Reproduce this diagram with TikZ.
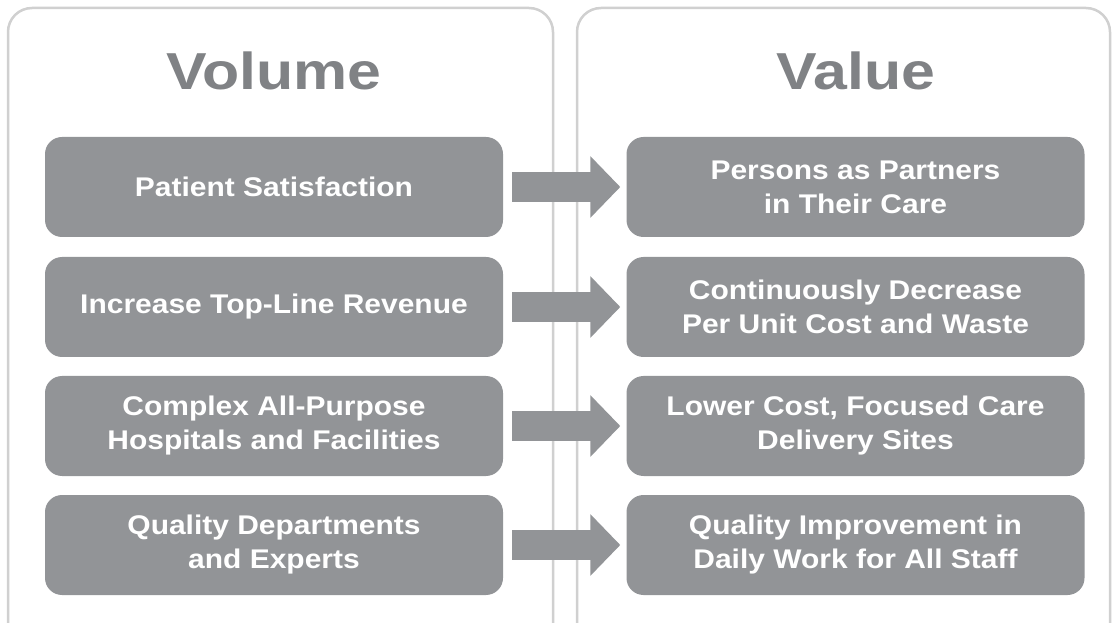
\documentclass[tikz,border=0pt]{standalone}
\usepackage{fontspec}
\usepackage{tikz}
\usetikzlibrary{arrows.meta}
\setmainfont{Liberation Sans}
\newfontfamily\titlefont{Liberation Sans}[FakeStretch=1.17]
\newfontfamily\boxfont{Liberation Sans}[FakeStretch=1.11]
\definecolor{boxgray}{RGB}{146,148,151}
\definecolor{titlegray}{RGB}{128,130,133}
\definecolor{panelline}{RGB}{208,208,208}
\tikzset{
    panel/.style={draw=panelline, line width=2.5pt, rounded corners=24pt},
    itembox/.style={rectangle, fill=boxgray, rounded corners=17pt, minimum width=458pt,
        minimum height=100pt, inner sep=0pt, text=white, align=center,
        font=\boxfont\bfseries\fontsize{27}{34}\selectfont},
    headline/.style={anchor=base, text=titlegray, font=\titlefont\bfseries\fontsize{52}{62}\selectfont},
    bigarrow/.style={draw=boxgray, line width=30pt, -{Triangle[length=30pt,width=60pt]}}
}

\begin{document}
\begin{tikzpicture}[x=1pt,y=1pt]
        \useasboundingbox (0,0) rectangle (1112,622);
        % the two panels
        \draw[panel] (8,-40) rectangle (553,614);
        \draw[panel] (577,-40) rectangle (1110,614);
        \node[headline] (volume) at (274,532) {Volume};
        \node[headline] (value) at (855.5,532) {Value};
        % left column
        \node[itembox] (l1) at (274,435) {Patient Satisfaction};
        \node[itembox] (l2) at (274,315) {Increase Top-Line Revenue};
        \node[itembox] (l3) at (274,196) {Complex All-Purpose\\Hospitals and Facilities};
        \node[itembox] (l4) at (274,77) {Quality Departments\\and Experts};
        % right column
        \node[itembox] (r1) at (855.5,435) {Persons as Partners\\in Their Care};
        \node[itembox] (r2) at (855.5,315) {Continuously Decrease\\Per Unit Cost and Waste};
        \node[itembox] (r3) at (855.5,196) {Lower Cost, Focused Care\\Delivery Sites};
        \node[itembox] (r4) at (855.5,77) {Quality Improvement in\\Daily Work for All Staff};
        % arrows
        \foreach \i in {1,...,4}
            \draw[bigarrow] ([xshift=9pt]l\i.east) -- ([xshift=-6pt]r\i.west);
    \end{tikzpicture}
\end{document}
